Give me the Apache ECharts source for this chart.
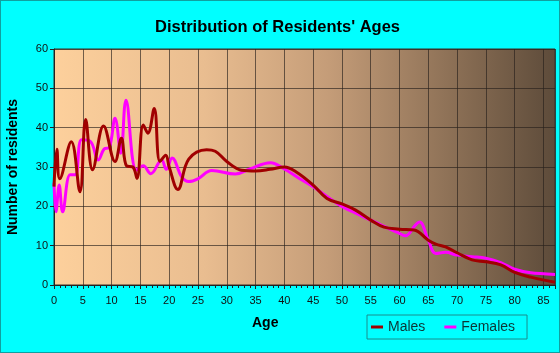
<!DOCTYPE html>
<html>
<head>
<meta charset="utf-8">
<script src="https://cdn.jsdelivr.net/npm/echarts@6/dist/echarts.min.js"></script>
<style>
  html, body { margin: 0; padding: 0; background: #00ffff; }
  #chart { width: 560px; height: 353px; }
  #frame { position: absolute; left: 0; top: 0; width: 560px; height: 353px; box-sizing: border-box; border: 1px solid #10a0a0; pointer-events: none; }
</style>
</head>
<body>
<div id="chart"></div>
<div id="frame"></div>
<script>
// ages and values
const maleAges = [0, 0.5, 1, 3, 4.5, 5.5, 6.7, 8.6, 10.6, 11.7, 12.6, 13.7, 14.4, 15.5, 16.3, 17.4, 18.4, 19.4, 20, 21.5, 23.4, 26.5, 28, 30, 32.6, 35, 37.5, 40, 42, 45, 47.4, 50, 52.3, 55, 57.3, 60, 62.5, 65, 66.3, 68, 70, 72.6, 75, 77.6, 80, 82.8, 87];
const maleValues = [25, 34.5, 27, 36.4, 23.7, 42.1, 29.3, 40.4, 31.4, 37.3, 30.3, 30, 27.1, 40.7, 38.6, 44.9, 31.4, 33, 30, 24.3, 32, 34.4, 34, 31.4, 29.2, 29, 29.4, 30, 28.8, 25.4, 22, 20.6, 19.1, 16.5, 14.7, 14.2, 14, 11.4, 10.4, 9.7, 8.2, 6.4, 5.9, 5.1, 3.2, 2, 0.7];

const femaleAges = [0, 0.35, 0.9, 1.5, 2.8, 3.7, 4.8, 6.3, 7.7, 8.7, 9.6, 10.6, 11.6, 12.5, 14.3, 15.5, 16.8, 18.7, 19.5, 20.5, 22.2, 23.4, 25, 27.4, 31.5, 34, 37.6, 40, 42.6, 45, 47.4, 50, 52.3, 55, 57.6, 60, 61, 62.8, 63.5, 65, 66.3, 68, 70, 72.6, 75, 77.6, 80, 82.8, 87];
const femaleValues = [26, 18.6, 25.4, 18.6, 28, 28, 36.9, 36.5, 31.8, 34.6, 35, 42.4, 33.5, 47, 29.2, 30.3, 28.3, 31.8, 29.4, 32.3, 27.4, 26.3, 27, 29.1, 28.2, 29.5, 31.1, 29.5, 27.1, 25, 22.5, 20, 18.3, 16.5, 14.7, 13.1, 12.5, 15.3, 16, 11.4, 8, 8.3, 7.6, 7.2, 6.8, 5.7, 4, 3.1, 2.7];

const yTicks = [0, 10, 20, 30, 40, 50, 60];

const chart = echarts.init(document.getElementById('chart'));

const zip = (xs, ys) => xs.map((x, i) => [x, ys[i]]);

chart.setOption({
  animation: false,
  title: {
    text: "Distribution of Residents' Ages",
    left: 150,
    top: 14,
    textStyle: { fontFamily: 'Liberation Sans', fontWeight: 'bold', fontSize: 16.5, color: '#000' }
  },
  graphic: [{
    type: 'text',
    left: 252,
    top: 316,
    style: { text: 'Age', fontFamily: 'Liberation Sans', fontWeight: 'bold', fontSize: 14, fill: '#000' }
  }],
  legend: {
    data: ['Males', 'Females'],
    left: 367,
    top: 315,
    padding: [5, 12, 5, 4],
    itemGap: 19,
    itemWidth: 12,
    itemHeight: 3,
    icon: 'rect',
    borderColor: '#1a8c8c',
    borderWidth: 1,
    textStyle: { fontFamily: 'Liberation Sans', fontSize: 14, color: '#0d3636' }
  },
  grid: {
    left: 54, right: 5, top: 49, bottom: 68,
    outerBoundsMode: 'none',
    containLabel: false,
    show: true,
    borderColor: '#3a3028',
    borderWidth: 1,
    backgroundColor: {
      type: 'linear', x: 0, y: 0, x2: 1, y2: 0,
      colorStops: [
        { offset: 0, color: '#fdd09c' },
        { offset: 0.3, color: '#e9bd90' },
        { offset: 0.55, color: '#c49c78' },
        { offset: 0.8, color: '#8b6f55' },
        { offset: 1, color: '#5d4b3a' }
      ]
    }
  },
  xAxis: {
    type: 'value',
    min: 0,
    max: 87,
    interval: 5,
    axisLine: { show: true, lineStyle: { color: '#222', width: 1 } },
    axisTick: { show: true, length: 4, lineStyle: { color: '#222' } },
    minorTick: { show: true, splitNumber: 5, length: 3, lineStyle: { color: '#222' } },
    axisLabel: {
      showMaxLabel: false,
      margin: 10,
      fontFamily: 'Liberation Sans', fontSize: 11, color: '#111'
    },
    splitLine: { show: true, lineStyle: { color: 'rgba(40,32,28,0.65)', width: 1 } }
  },
  yAxis: {
    type: 'value',
    min: yTicks[0],
    max: yTicks[yTicks.length - 1],
    interval: 10,
    name: 'Number of residents',
    nameLocation: 'middle',
    nameGap: 34,
    nameTextStyle: { fontFamily: 'Liberation Sans', fontWeight: 'bold', fontSize: 14, color: '#000' },
    axisLine: { show: true, lineStyle: { color: '#222', width: 1 } },
    axisTick: { show: true, length: 4, lineStyle: { color: '#222' } },
    axisLabel: { margin: 6, fontFamily: 'Liberation Sans', fontSize: 11, color: '#111' },
    splitLine: { show: true, lineStyle: { color: 'rgba(40,32,28,0.65)', width: 1 } }
  },
  series: [
    {
      name: 'Females',
      type: 'line',
      data: zip(femaleAges, femaleValues),
      smooth: 0.4,
      showSymbol: false,
      symbol: 'none',
      itemStyle: { color: '#ff00ff' },
      lineStyle: { color: '#ff00ff', width: 3 }
    },
    {
      name: 'Males',
      type: 'line',
      data: zip(maleAges, maleValues),
      smooth: 0.4,
      showSymbol: false,
      symbol: 'none',
      itemStyle: { color: '#a00000' },
      lineStyle: { color: '#a00000', width: 3 }
    }
  ]
});
</script>
</body>
</html>
